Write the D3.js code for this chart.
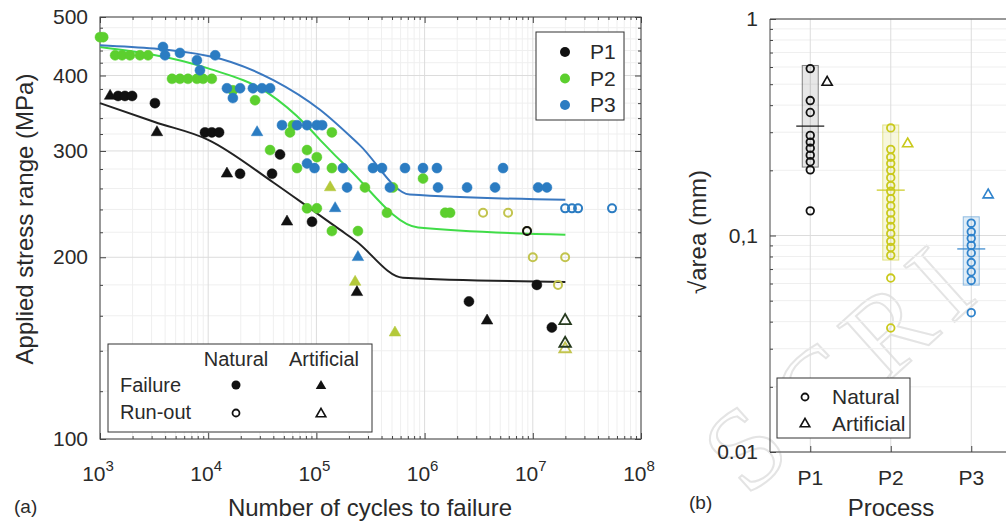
<!DOCTYPE html>
<html>
<head>
<meta charset="utf-8">
<script src="https://cdn.jsdelivr.net/npm/d3@7"></script>
<style>
body { margin: 0; background: #fff; }
svg { font-family: "Liberation Sans", Arial, sans-serif; }
</style>
</head>
<body>
<div id="chart"></div>
<script>
// ---- panel (a) data: [cycles to failure, stress range MPa] ----
var p1FailNat = [[1470,370],[1700,370],[1980,370],[3220,360],[9340,322],[10800,322],[12600,322],[19700,275],[38900,275],[46100,296],[91100,229],[2.57e6,169],[1.09e7,180],[1.5e7,153]];
var p1FailArt = [[1240,370],[3360,322],[14900,275],[53500,229],[237000,175],[3.78e6,157]];
var p1RunNat = [[8.84e6,221]];
var p1RunArt = [[1.99e7,157],[1.99e7,144]];

var p2FailNat = [[1000,463],[1070,463],[1380,432],[1600,432],[1890,432],[2340,432],[2780,432],[4630,395],[5480,395],[6500,395],[7870,395],[8960,395],[10800,395],[16900,378],[27100,364],[37300,301],[57000,322],[60800,331],[66200,281],[81900,301],[81900,241],[101000,293],[101000,241],[139000,322],[139000,281],[139000,221],[242000,221],[281000,261],[449000,237],[510000,261],[967000,270],[1.55e6,237],[1.72e6,237]];
var p2FailArt = [[134000,261],[228000,182],[532000,150]];
var p2RunNat = [[3.47e6,237],[5.91e6,237],[8.84e6,221],[1.0e7,200],[1.99e7,200],[1.71e7,180]];
var p2RunArt = [[1.99e7,141]];

var p3FailNat = [[3820,446],[3990,432],[5480,436],[7870,424],[8390,408],[11600,432],[14900,381],[16900,367],[19700,381],[25900,381],[31400,381],[37300,381],[48100,331],[66200,331],[81900,331],[101000,331],[113000,331],[81900,286],[96000,281],[176000,281],[333000,281],[404000,281],[659000,281],[967000,281],[1.3e6,281],[5.31e6,281],[192000,261],[478000,261],[1.33e6,261],[2.47e6,261],[4.48e6,261],[1.12e7,261],[1.35e7,261]];
var p3FailArt = [[28300,322],[149000,241],[242000,200]];
var p3RunNat = [[1.99e7,241],[2.3e7,241],[2.62e7,241],[5.4e7,241]];

// fitted curves
var p1Curve = [[1e3,360],[3.2e3,335],[1e4,313],[4e4,266],[9.3e4,239],[1.66e5,222],[2.3e5,213],[6.3e5,185],[2e7,182]];
var p2Curve = [[1e3,446],[1e4,411],[3.5e4,375],[8.2e4,330],[1.08e5,313],[2e5,280],[8.7e5,224],[2e7,218]];
var p3Curve = [[1e3,449],[1e4,431],[4e4,393],[1.08e5,351],[2.5e5,307],[7.3e5,254],[2e7,249]];

var yTicksA = [100, 200, 300, 400, 500];
var xTicksA = [1e3, 1e4, 1e5, 1e6, 1e7, 1e8];
var processes = ["P1", "P2", "P3"];

// ---- panel (b) data: sqrt(area) in mm ----
var areaNatP1 = [0.59,0.42,0.37,0.29,0.27,0.253,0.235,0.219,0.201,0.13];
var areaNatP2 = [0.314,0.25,0.23,0.215,0.2,0.185,0.17,0.16,0.148,0.137,0.127,0.118,0.11,0.102,0.094,0.088,0.081,0.0636,0.0374];
var areaNatP3 = [0.114,0.104,0.097,0.09,0.083,0.075,0.068,0.062,0.044];
var areaArt = [0.51, 0.265, 0.154];
var boxLow = [0.207, 0.077, 0.059];
var boxHigh = [0.61, 0.324, 0.122];
var boxMid = [0.32, 0.162, 0.0867];
var yTicksB = [0.01, 0.1, 1];
var yTickLabelsB = ["0.01", "0,1", "1"];

var watermark = ["S", "C", "R", "I"];

var colP1 = "#111111", colP2 = "#5ccf2e", colP2b = "#b4c93a", colP3 = "#2b7cc2";
var colB = ["#111111", "#c9c91c", "#2f83cc"];
var textCol = "#2a2a2a";

var svg = d3.select("#chart")
    .append("svg")
        .attr("width", 1006)
        .attr("height", 523);

// faint manuscript watermark, behind everything
var wmPos = [[745, 448], [818, 390], [888, 330], [940, 283]];
svg.append("g").selectAll("text").data(watermark).join("text")
    .attr("transform", (d, i) => "translate(" + wmPos[i][0] + "," + wmPos[i][1] + ") rotate(-42)")
    .attr("text-anchor", "middle").attr("dominant-baseline", "central")
    .attr("font-family", "Liberation Serif, serif").attr("font-size", 115)
    .attr("fill", "none").attr("stroke", "#e4e4e4").attr("stroke-width", 2)
    .text(d => d);

// ================= panel (a) =================
var xA = d3.scaleLog().domain([1e3, 1e8]).range([100, 641]);
var yA = d3.scaleLog().domain([100, 500]).range([439, 17]);

var gA = svg.append("g");

var xAll = xA.ticks();                      // 1..9 x 10^k
var xMinor = xAll.filter(function(d) { return xTicksA.indexOf(d) < 0; });
var yMinor = d3.range(120, 500, 20).filter(function(d) { return yTicksA.indexOf(d) < 0; });

// grid
gA.selectAll(".gxm").data(xMinor).join("line")
    .attr("x1", d => xA(d)).attr("x2", d => xA(d)).attr("y1", 17).attr("y2", 439)
    .attr("stroke", "#efefef");
gA.selectAll(".gym").data(yMinor).join("line")
    .attr("x1", 100).attr("x2", 641).attr("y1", d => yA(d)).attr("y2", d => yA(d))
    .attr("stroke", "#efefef");
gA.selectAll(".gx").data(xTicksA).join("line")
    .attr("x1", d => xA(d)).attr("x2", d => xA(d)).attr("y1", 17).attr("y2", 439)
    .attr("stroke", "#dcdcdc");
gA.selectAll(".gy").data(yTicksA).join("line")
    .attr("x1", 100).attr("x2", 641).attr("y1", d => yA(d)).attr("y2", d => yA(d))
    .attr("stroke", "#dcdcdc");

// inward ticks on all four sides
function ticksA(axis, tr, vals, size) {
    gA.append("g").attr("transform", tr)
        .call(axis.tickValues(vals).tickSize(-size).tickFormat(""))
        .call(g => g.select(".domain").remove())
        .selectAll("line").attr("stroke", "#444");
}
ticksA(d3.axisBottom(xA), "translate(0,439)", xTicksA, 6);
ticksA(d3.axisBottom(xA), "translate(0,439)", xMinor, 3);
ticksA(d3.axisTop(xA), "translate(0,17)", xTicksA, 6);
ticksA(d3.axisTop(xA), "translate(0,17)", xMinor, 3);
ticksA(d3.axisLeft(yA), "translate(100,0)", yTicksA, 6);
ticksA(d3.axisLeft(yA), "translate(100,0)", yMinor, 3);
ticksA(d3.axisRight(yA), "translate(641,0)", yTicksA, 6);
ticksA(d3.axisRight(yA), "translate(641,0)", yMinor, 3);

gA.append("rect").attr("x", 100).attr("y", 17).attr("width", 541).attr("height", 422)
    .attr("fill", "none").attr("stroke", "#444").attr("stroke-width", 1);

// tick labels
gA.selectAll(".yl").data(yTicksA).join("text")
    .attr("x", 88).attr("y", d => yA(d) + 7)
    .attr("text-anchor", "end").attr("font-size", 21).attr("fill", textCol)
    .text(d => d);

var xl = gA.selectAll(".xl").data(xTicksA).join("text")
    .attr("x", d => xA(d) - 2).attr("y", 481)
    .attr("text-anchor", "middle").attr("fill", textCol);
xl.append("tspan").attr("font-size", 21).text("10");
xl.append("tspan").attr("font-size", 15).attr("dy", -10).text(d => Math.round(Math.log10(d)));

gA.append("text").attr("x", 370).attr("y", 516).attr("text-anchor", "middle")
    .attr("font-size", 24).attr("fill", textCol).text("Number of cycles to failure");
gA.append("text").attr("transform", "translate(33,219) rotate(-90)").attr("text-anchor", "middle")
    .attr("font-size", 24).attr("fill", textCol).text("Applied stress range (MPa)");
gA.append("text").attr("x", 14).attr("y", 513).attr("font-size", 19).attr("fill", textCol).text("(a)");

// curves
var lineA = d3.line().x(d => xA(d[0])).y(d => yA(d[1])).curve(d3.curveMonotoneX);
[[p1Curve, "#222222"], [p2Curve, "#40dc48"], [p3Curve, "#3a78c0"]].forEach(function(c) {
    gA.append("path").datum(c[0]).attr("d", lineA)
        .attr("fill", "none").attr("stroke", c[1]).attr("stroke-width", 2);
});

// markers
var tri = d3.symbol().type(d3.symbolTriangle).size(58);
function circles(g, data, x, y, col, open) {
    g.append("g").selectAll("circle").data(data).join("circle")
        .attr("cx", d => x(d[0])).attr("cy", d => y(d[1])).attr("r", open ? 4 : 5)
        .attr("fill", open ? "none" : col).attr("stroke", col).attr("stroke-width", open ? 2 : 0.5);
}
function triangles(g, data, x, y, col, open) {
    g.append("g").selectAll("path").data(data).join("path")
        .attr("transform", d => "translate(" + x(d[0]) + "," + y(d[1]) + ")")
        .attr("d", tri)
        .attr("fill", open ? "none" : col).attr("stroke", col).attr("stroke-width", open ? 1.8 : 0.5);
}

circles(gA, p2RunNat, xA, yA, "#c2c44e", true);
circles(gA, p3RunNat, xA, yA, colP3, true);
circles(gA, p1RunNat, xA, yA, colP1, true);
triangles(gA, p2RunArt, xA, yA, "#c2c44e", true);
triangles(gA, p1RunArt, xA, yA, "#263a1e", true);
circles(gA, p2FailNat, xA, yA, colP2, false);
circles(gA, p3FailNat, xA, yA, colP3, false);
circles(gA, p1FailNat, xA, yA, colP1, false);
triangles(gA, p2FailArt, xA, yA, colP2b, false);
triangles(gA, p3FailArt, xA, yA, colP3, false);
triangles(gA, p1FailArt, xA, yA, colP1, false);

// legend: process
var legP = gA.append("g");
legP.append("rect").attr("x", 536).attr("y", 32).attr("width", 88).attr("height", 88)
    .attr("fill", "#fff").attr("stroke", "#333");
legP.selectAll("circle").data(processes).join("circle")
    .attr("cx", 565).attr("cy", (d, i) => 52 + i * 26.5).attr("r", 5)
    .attr("fill", (d, i) => [colP1, colP2, colP3][i]);
legP.selectAll("text").data(processes).join("text")
    .attr("x", 590).attr("y", (d, i) => 59 + i * 26.5)
    .attr("font-size", 21).attr("fill", textCol).text(d => d);

// legend: defect / outcome
var legT = gA.append("g");
legT.append("rect").attr("x", 108).attr("y", 344).attr("width", 264).attr("height", 88)
    .attr("fill", "#fff").attr("stroke", "#333");
legT.append("text").attr("x", 236).attr("y", 366).attr("text-anchor", "middle")
    .attr("font-size", 20).attr("fill", textCol).text("Natural");
legT.append("text").attr("x", 324).attr("y", 366).attr("text-anchor", "middle")
    .attr("font-size", 20).attr("fill", textCol).text("Artificial");
legT.append("text").attr("x", 120).attr("y", 392).attr("font-size", 20).attr("fill", textCol).text("Failure");
legT.append("text").attr("x", 120).attr("y", 419).attr("font-size", 20).attr("fill", textCol).text("Run-out");
legT.append("circle").attr("cx", 236).attr("cy", 385).attr("r", 4.5).attr("fill", "#111");
legT.append("circle").attr("cx", 236).attr("cy", 413).attr("r", 3.5).attr("fill", "none").attr("stroke", "#111").attr("stroke-width", 1.8);
legT.append("path").attr("transform", "translate(321,386)").attr("d", d3.symbol().type(d3.symbolTriangle).size(48)).attr("fill", "#111");
legT.append("path").attr("transform", "translate(321,414)").attr("d", d3.symbol().type(d3.symbolTriangle).size(40)).attr("fill", "none").attr("stroke", "#111").attr("stroke-width", 1.6);

// ================= panel (b) =================
var xB = d3.scaleLinear().domain([0.5, 4.5]).range([770, 1092]);
var yB = d3.scaleLog().domain([0.01, 1]).range([452, 19]);
var gB = svg.append("g");

var yAllB = yB.ticks();
var yMinorB = yAllB.filter(function(d) { return yTicksB.indexOf(d) < 0; });

gB.selectAll(".gym").data(yMinorB).join("line")
    .attr("x1", 770).attr("x2", 1006).attr("y1", d => yB(d)).attr("y2", d => yB(d))
    .attr("stroke", "#efefef");
gB.selectAll(".gy").data(yTicksB).join("line")
    .attr("x1", 770).attr("x2", 1006).attr("y1", d => yB(d)).attr("y2", d => yB(d))
    .attr("stroke", "#dcdcdc");
gB.selectAll(".gx").data(processes).join("line")
    .attr("x1", (d, i) => xB(i + 1)).attr("x2", (d, i) => xB(i + 1)).attr("y1", 19).attr("y2", 452)
    .attr("stroke", "#dcdcdc");

gB.append("g").attr("transform", "translate(770,0)")
    .call(d3.axisLeft(yB).tickValues(yTicksB).tickSize(-6).tickFormat(""))
    .call(g => g.select(".domain").remove())
    .selectAll("line").attr("stroke", "#444");
gB.append("g").attr("transform", "translate(770,0)")
    .call(d3.axisLeft(yB).tickValues(yMinorB).tickSize(-3).tickFormat(""))
    .call(g => g.select(".domain").remove())
    .selectAll("line").attr("stroke", "#444");
gB.append("g").attr("transform", "translate(0,452)")
    .call(d3.axisBottom(xB).tickValues([1, 2, 3]).tickSize(-6).tickFormat(""))
    .call(g => g.select(".domain").remove())
    .selectAll("line").attr("stroke", "#444");

gB.append("path").attr("d", "M1006,19H770V452H1006").attr("fill", "none").attr("stroke", "#444");

gB.selectAll(".yl").data(yTicksB).join("text")
    .attr("x", 758).attr("y", d => yB(d) + 7)
    .attr("text-anchor", "end").attr("font-size", 21).attr("fill", textCol)
    .text((d, i) => yTickLabelsB[i]);
gB.selectAll(".xl").data(processes).join("text")
    .attr("x", (d, i) => xB(i + 1)).attr("y", 485)
    .attr("text-anchor", "middle").attr("font-size", 21).attr("fill", textCol).text(d => d);
gB.append("text").attr("x", 891).attr("y", 516).attr("text-anchor", "middle")
    .attr("font-size", 24).attr("fill", textCol).text("Process");
gB.append("text").attr("transform", "translate(706,232) rotate(-90)").attr("text-anchor", "middle")
    .attr("font-size", 24).attr("fill", textCol).text("\u221Aarea (mm)");
gB.append("text").attr("x", 689).attr("y", 509).attr("font-size", 19).attr("fill", textCol).text("(b)");

// boxes
processes.forEach(function(p, i) {
    var cx = xB(i + 1);
    gB.append("rect")
        .attr("x", cx - 8).attr("width", 16)
        .attr("y", yB(boxHigh[i])).attr("height", yB(boxLow[i]) - yB(boxHigh[i]))
        .attr("fill", colB[i]).attr("fill-opacity", i === 0 ? 0.1 : 0.15)
        .attr("stroke", colB[i]).attr("stroke-opacity", 0.5);
    gB.append("line")
        .attr("x1", cx - 14).attr("x2", cx + 14)
        .attr("y1", yB(boxMid[i])).attr("y2", yB(boxMid[i]))
        .attr("stroke", colB[i]).attr("stroke-width", 1.5).attr("stroke-opacity", 0.8);
});

var natB = [areaNatP1, areaNatP2, areaNatP3];
natB.forEach(function(vals, i) {
    gB.append("g").selectAll("circle").data(vals).join("circle")
        .attr("cx", xB(i + 1)).attr("cy", d => yB(d)).attr("r", 3.8)
        .attr("fill", "none").attr("stroke", colB[i]).attr("stroke-width", 1.8);
});
gB.append("g").selectAll("path").data(areaArt).join("path")
    .attr("transform", (d, i) => "translate(" + xB(i + 1.21) + "," + yB(d) + ")")
    .attr("d", d3.symbol().type(d3.symbolTriangle).size(45))
    .attr("fill", "none").attr("stroke", (d, i) => colB[i]).attr("stroke-width", 1.6);

// legend (b)
var legB = gB.append("g");
legB.append("rect").attr("x", 777).attr("y", 378).attr("width", 133).attr("height", 60)
    .attr("fill", "#fff").attr("stroke", "#333");
legB.append("circle").attr("cx", 805).attr("cy", 397).attr("r", 3.5)
    .attr("fill", "none").attr("stroke", "#111").attr("stroke-width", 1.8);
legB.append("path").attr("transform", "translate(805,424)").attr("d", d3.symbol().type(d3.symbolTriangle).size(40))
    .attr("fill", "none").attr("stroke", "#111").attr("stroke-width", 1.6);
legB.append("text").attr("x", 832).attr("y", 404).attr("font-size", 21).attr("fill", textCol).text("Natural");
legB.append("text").attr("x", 832).attr("y", 431).attr("font-size", 21).attr("fill", textCol).text("Artificial");
</script>
</body>
</html>
